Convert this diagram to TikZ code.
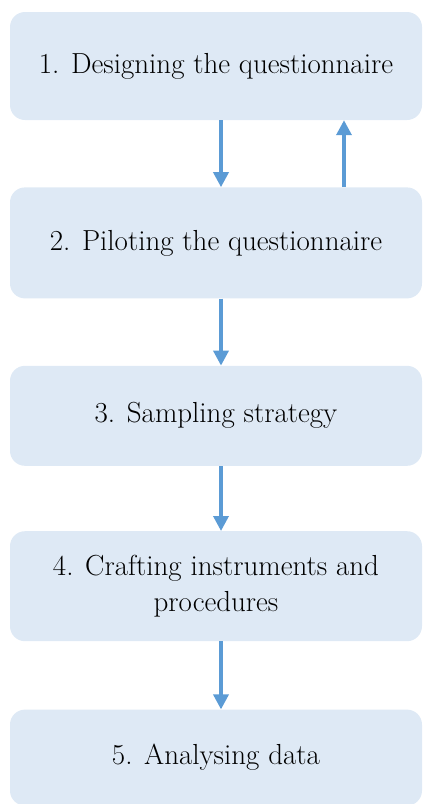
\documentclass[tikz,border=0pt]{standalone}
\usetikzlibrary{positioning,arrows.meta}
\definecolor{stagefill}{HTML}{DEE9F5}
\definecolor{stagearrow}{HTML}{5B9BD5}

\begin{document}
\begin{tikzpicture}[node distance=67pt, every node/.style={align=center},
  stagebox/.style={fill=stagefill, rounded corners=15pt, minimum width=412pt,
    font=\fontsize{29}{36}\selectfont, inner sep=0pt},
  flowarrow/.style={-{Triangle[width=15pt,length=15pt]}, line width=3.5pt, stagearrow}]
\useasboundingbox (0,0) rectangle (423pt,-804pt);
\node[stagebox, minimum height=108pt] (S1) at (216pt,-66pt) {1. Designing the questionnaire};
\node[stagebox, minimum height=111pt, below=67pt of S1] (S2) {2. Piloting the questionnaire};
\node[stagebox, minimum height=100pt, below=67pt of S2] (S3) {3. Sampling strategy};
\node[stagebox, minimum height=110pt, below=65pt of S3] (S4) {4. Crafting instruments and\\procedures};
\node[stagebox, minimum height=96pt, below=68pt of S4] (S5) {5. Analysing data};
\draw[flowarrow] ([xshift=5pt]S1.south) -- ([xshift=5pt]S2.north);
\draw[flowarrow] ([xshift=128pt]S2.north) -- ([xshift=128pt]S1.south);
\draw[flowarrow] ([xshift=5pt]S2.south) -- ([xshift=5pt]S3.north);
\draw[flowarrow] ([xshift=5pt]S3.south) -- ([xshift=5pt]S4.north);
\draw[flowarrow] ([xshift=5pt]S4.south) -- ([xshift=5pt]S5.north);
\end{tikzpicture}
\end{document}
